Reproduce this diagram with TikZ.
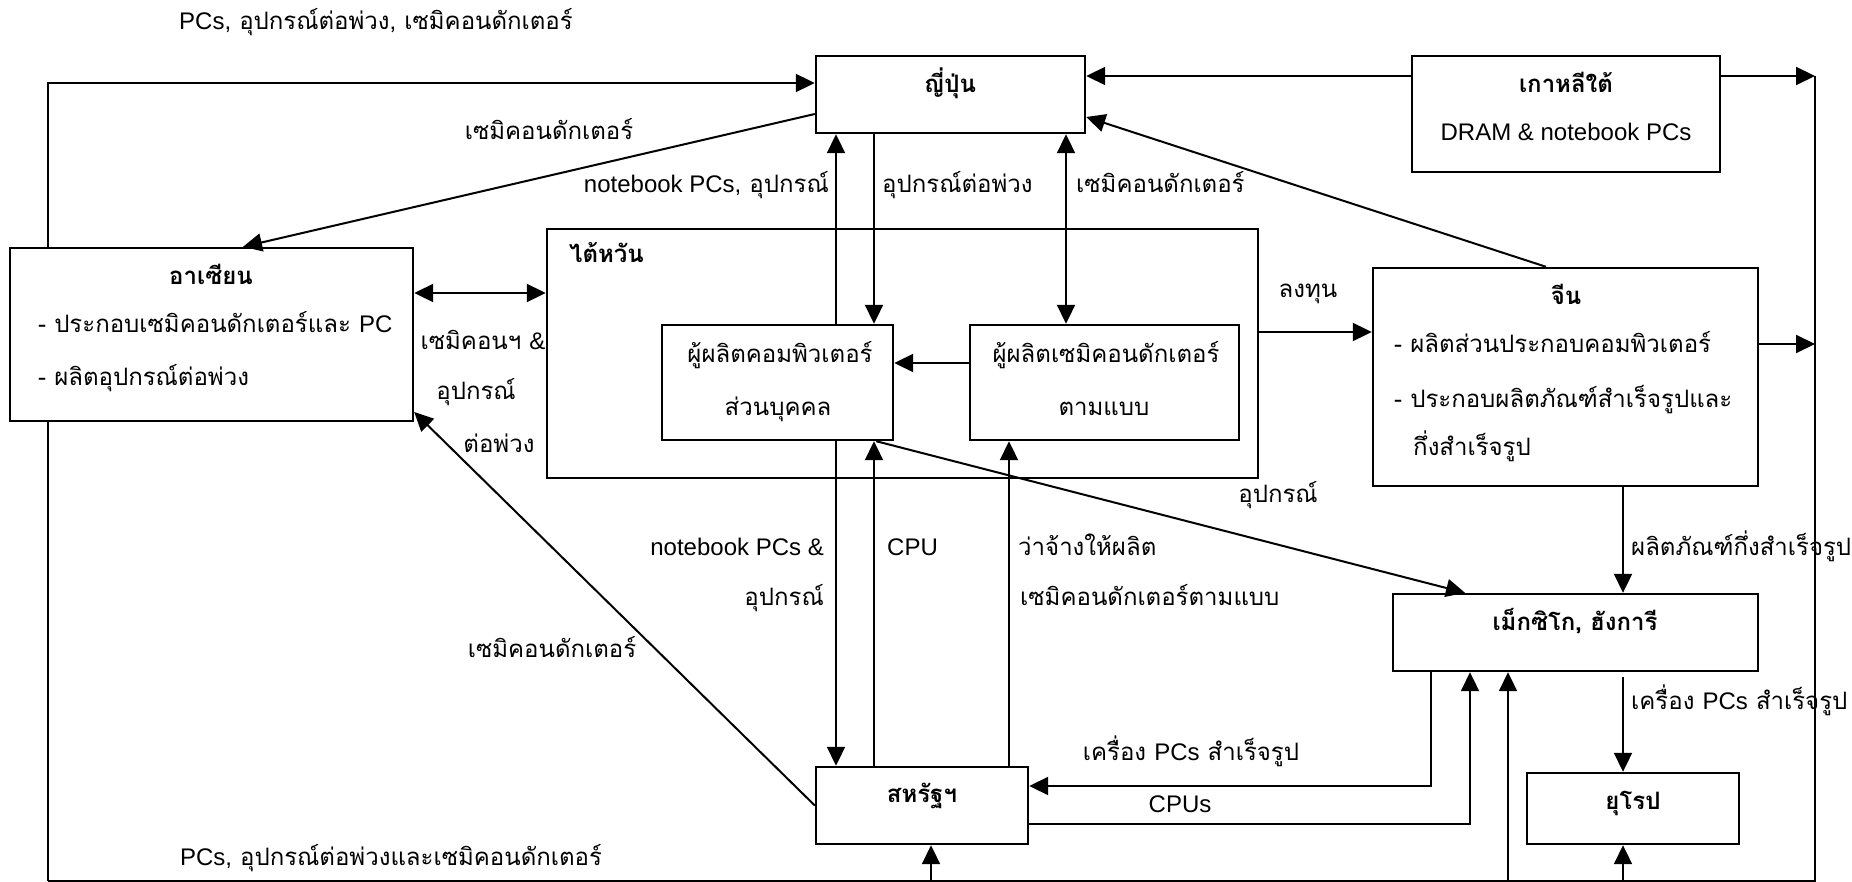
\documentclass[tikz,border=0pt]{standalone}
\usepackage{fontspec}
\setmainfont{Loma}[Script=Thai]
\newfontfamily\lat{Liberation Sans}
\usetikzlibrary{arrows.meta}
\pgfdeclarelayer{bg}
\pgfsetlayers{bg,main}
\begin{document}
\begin{tikzpicture}[x=1pt,y=-1pt,
  box/.style={draw, line width=2.4pt, fill=white, inner sep=0pt},
  con/.style={line width=2pt},
  arr/.style={con, -{Triangle[length=19pt,width=18pt]}},
  darr/.style={con, {Triangle[length=19pt,width=18pt]}-{Triangle[length=19pt,width=18pt]}},
  lbl/.style={font=\fontsize{24}{28}\selectfont, inner sep=0pt},
  ttl/.style={font=\fontsize{24}{28}\selectfont\bfseries, inner sep=0pt}]
\useasboundingbox (0,0) rectangle (1852,882);

% ---- boxes ----
\node[box, minimum width=711pt, minimum height=249pt] (taiwan) at (902.5,353.5) {};
\node[box, minimum width=269pt, minimum height=77pt]  (japan)  at (950.5,94.5) {};
\node[box, minimum width=308pt, minimum height=116pt] (korea)  at (1566,114) {};
\node[box, minimum width=403pt, minimum height=173pt] (asean)  at (211.5,334.5) {};
\node[box, minimum width=231pt, minimum height=115pt] (pcm)    at (777.5,382.5) {};
\node[box, minimum width=269pt, minimum height=115pt] (semim)  at (1104.5,382.5) {};
\node[box, minimum width=385pt, minimum height=218pt] (china)  at (1565.5,377) {};
\node[box, minimum width=365pt, minimum height=77pt]  (mexico) at (1575.5,632.5) {};
\node[box, minimum width=212pt, minimum height=77pt]  (usa)    at (922,805.5) {};
\node[box, minimum width=212pt, minimum height=71pt]  (europe) at (1633,808.5) {};

% ---- helper coordinates ----
\coordinate (tl) at (48,83);
\coordinate (bl) at (48,881);
\coordinate (br) at (1815,881);
\coordinate (tr) at (1815,76);
\coordinate (cr) at (1815,344);
\coordinate (v1) at (836,0);
\coordinate (v2) at (874,0);
\coordinate (v3) at (1066,0);
\coordinate (v4) at (1009,0);
\coordinate (v5) at (1623,0);
\coordinate (v6) at (1431,0);
\coordinate (v7) at (1470,0);
\coordinate (b1) at (931,881);
\coordinate (b2) at (1508,881);
\coordinate (b3) at (1623,881);
\coordinate (h1) at (0,293);
\coordinate (h2) at (0,332);
\coordinate (h3) at (0,363);
\coordinate (h4) at (0,786);
\coordinate (h5) at (0,824);
\coordinate (h6) at (0,114);
\coordinate (h7) at (0,117);
\coordinate (h8) at (0,412);
\coordinate (a1) at (243,0);
\coordinate (a2) at (1546,0);
\coordinate (a3) at (875,0);
\coordinate (a4) at (1465,0);

% ---- loop lines ----
\begin{pgfonlayer}{bg}
\draw[arr] (bl) -- (tl) -- (japan.west |- tl);
\draw[con] (bl) -- (br) -- (tr);
\end{pgfonlayer}

% ---- connectors ----
\draw[arr] (korea.west |- tr) -- (japan.east |- tr);
\draw[arr] (korea.east |- tr) -- (tr);
\draw[arr] (china.east |- cr) -- (cr);
\draw[arr] (japan.west |- h6) -- (asean.north -| a1);
\draw[arr] (china.north -| a2) -- (japan.east |- h7);
\draw[darr] (asean.east |- h1) -- (taiwan.west |- h1);
\draw[arr] (pcm.north -| v1) -- (japan.south -| v1);
\draw[arr] (japan.south -| v2) -- (pcm.north -| v2);
\draw[darr] (japan.south -| v3) -- (semim.north -| v3);
\draw[arr] (semim.west |- h3) -- (pcm.east |- h3);
\draw[arr] (taiwan.east |- h2) -- (china.west |- h2);
\draw[arr] (pcm.south -| v1) -- (usa.north -| v1);
\draw[arr] (usa.north -| v2) -- (pcm.south -| v2);
\draw[arr] (usa.north -| v4) -- (semim.south -| v4);
\draw[arr] ([xshift=-18pt]pcm.south east) -- (mexico.north -| a4);
\draw[arr] (usa.west) -- (asean.east |- h8);
\draw[arr] (china.south -| v5) -- (mexico.north -| v5);
\draw[arr, shorten <=5pt] (mexico.south -| v5) -- (europe.north -| v5);
\draw[arr] (mexico.south -| v6) |- (usa.east |- h4);
\draw[arr] (usa.east |- h5) -| (mexico.south -| v7);
\draw[arr] (b1) -- (usa.south -| b1);
\draw[arr] (b2) -- (mexico.south -| b2);
\draw[arr] (b3) -- (europe.south -| b3);

% ---- box texts ----
\node[ttl,anchor=mid] (tjp) at (950,90) {ญี่ปุ่น};
\node[ttl,anchor=mid] (tkr) at (1566,90) {เกาหลีใต้};
\node[lbl,anchor=mid] (tkr2) at (1566,138) {\lat DRAM \& notebook PCs};
\node[ttl,anchor=mid] (tas) at (211,282) {อาเซียน};
\node[lbl,anchor=mid west] (tas1) at (38,330) {- ประกอบเซมิคอนดักเตอร์และ {\lat PC}};
\node[lbl,anchor=mid west] (tas2) at (38,383) {- ผลิตอุปกรณ์ต่อพ่วง};
\node[ttl,anchor=mid west] (ttw) at (569,260) {ไต้หวัน};
\node[lbl,anchor=mid] (tpc1) at (780,360) {ผู้ผลิตคอมพิวเตอร์};
\node[lbl,anchor=mid] (tpc2) at (778,413) {ส่วนบุคคล};
\node[lbl,anchor=mid] (tsm1) at (1106,360) {ผู้ผลิตเซมิคอนดักเตอร์};
\node[lbl,anchor=mid] (tsm2) at (1104,413) {ตามแบบ};
\node[ttl,anchor=mid] (tcn) at (1566,302) {จีน};
\node[lbl,anchor=mid west] (tcn1) at (1394,350) {- ผลิตส่วนประกอบคอมพิวเตอร์};
\node[lbl,anchor=mid west] (tcn2) at (1394,405) {- ประกอบผลิตภัณฑ์สำเร็จรูปและ};
\node[lbl,anchor=mid west] (tcn3) at (1413,453) {กึ่งสำเร็จรูป};
\node[ttl,anchor=mid] (tmx) at (1575,628) {เม็กซิโก, ฮังการี};
\node[ttl,anchor=mid] (tus) at (922,800) {สหรัฐฯ};
\node[ttl,anchor=mid] (teu) at (1633,807) {ยุโรป};

% ---- connector labels ----
\node[lbl,anchor=mid] (l1) at (376,27) {{\lat PCs,} อุปกรณ์ต่อพ่วง, เซมิคอนดักเตอร์};
\node[lbl,anchor=mid] (l2) at (549,137) {เซมิคอนดักเตอร์};
\node[lbl,anchor=mid east] (l3) at (829,190) {{\lat notebook PCs,} อุปกรณ์};
\node[lbl,anchor=mid west] (l4) at (882,190) {อุปกรณ์ต่อพ่วง};
\node[lbl,anchor=mid west] (l5) at (1076,190) {เซมิคอนดักเตอร์};
\node[lbl,anchor=mid] (l6) at (1308,295) {ลงทุน};
\node[lbl,anchor=mid] (l7) at (483,347) {เซมิคอนฯ {\lat \&}};
\node[lbl,anchor=mid] (l8) at (476,397) {อุปกรณ์};
\node[lbl,anchor=mid] (l9) at (499,450) {ต่อพ่วง};
\node[lbl,anchor=mid] (l10) at (1278,500) {อุปกรณ์};
\node[lbl,anchor=mid east] (l11) at (824,553) {\lat notebook PCs \&};
\node[lbl,anchor=mid east] (l12) at (824,603) {อุปกรณ์};
\node[lbl,anchor=mid west] (l13) at (887,553) {\lat CPU};
\node[lbl,anchor=mid west] (l14) at (1018,553) {ว่าจ้างให้ผลิต};
\node[lbl,anchor=mid west] (l15) at (1020,603) {เซมิคอนดักเตอร์ตามแบบ};
\node[lbl,anchor=mid west] (l16) at (1631,553) {ผลิตภัณฑ์กึ่งสำเร็จรูป};
\node[lbl,anchor=mid] (l17) at (552,655) {เซมิคอนดักเตอร์};
\node[lbl,anchor=mid] (l18) at (1191,758) {เครื่อง {\lat PCs} สำเร็จรูป};
\node[lbl,anchor=mid] (l19) at (1180,810) {\lat CPUs};
\node[lbl,anchor=mid west] (l20) at (1631,707) {เครื่อง {\lat PCs} สำเร็จรูป};
\node[lbl,anchor=mid] (l21) at (391,863) {{\lat PCs,} อุปกรณ์ต่อพ่วงและเซมิคอนดักเตอร์};
\end{tikzpicture}
\end{document}
